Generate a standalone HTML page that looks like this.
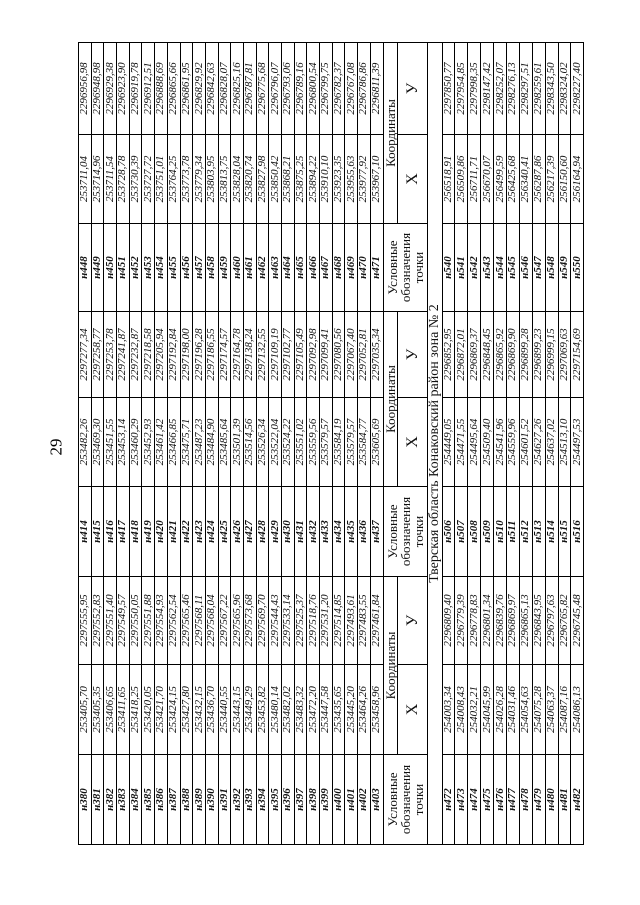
<!DOCTYPE html>
<html><head><meta charset="utf-8"><style>
html,body{margin:0;padding:0;background:#fff;}
body{width:640px;height:905px;position:relative;overflow:hidden;font-family:"Liberation Serif",serif;}
#w{position:absolute;left:0;top:0;width:802px;height:509px;transform-origin:0 0;transform:translate(78px,845px) rotate(-90deg);}
table{border-collapse:collapse;table-layout:fixed;width:802px;}
td{border:1px solid #000;padding:0;text-align:center;font-style:italic;font-size:11px;line-height:11px;height:11.7px;overflow:hidden;white-space:nowrap;color:#111;}
td.n{font-weight:bold;}
tr.h td{font-style:normal;font-size:13px;line-height:13px;height:13px;}
tr.h2 td{font-style:normal;font-size:16px;height:29px;}
td.hn{font-style:normal;font-size:13px;line-height:14px;white-space:normal;}
tr.z td{font-style:normal;font-size:14px;line-height:14px;height:14px;}
tr.b td{height:11.9px;}
#p{position:absolute;left:48px;top:437px;font-size:17px;transform:rotate(-90deg);}
</style></head><body>
<div id="p">29</div>
<div id="w"><table>
<colgroup><col style="width:90px"><col style="width:90px"><col style="width:88px"><col style="width:90px"><col style="width:89px"><col style="width:86px"><col style="width:88px"><col style="width:89px"><col style="width:92px"></colgroup>
<tr><td class="n">н380</td><td>253405,70</td><td>2297555,95</td><td class="n">н414</td><td>253482,26</td><td>2297277,34</td><td class="n">н448</td><td>253711,04</td><td>2296956,98</td></tr>
<tr><td class="n">н381</td><td>253405,35</td><td>2297552,83</td><td class="n">н415</td><td>253469,30</td><td>2297258,77</td><td class="n">н449</td><td>253714,96</td><td>2296948,98</td></tr>
<tr><td class="n">н382</td><td>253406,65</td><td>2297551,40</td><td class="n">н416</td><td>253451,55</td><td>2297253,78</td><td class="n">н450</td><td>253711,54</td><td>2296929,38</td></tr>
<tr><td class="n">н383</td><td>253411,65</td><td>2297549,57</td><td class="n">н417</td><td>253453,14</td><td>2297241,87</td><td class="n">н451</td><td>253728,78</td><td>2296923,90</td></tr>
<tr><td class="n">н384</td><td>253418,25</td><td>2297550,05</td><td class="n">н418</td><td>253460,29</td><td>2297232,87</td><td class="n">н452</td><td>253730,39</td><td>2296919,78</td></tr>
<tr><td class="n">н385</td><td>253420,05</td><td>2297551,88</td><td class="n">н419</td><td>253452,93</td><td>2297218,58</td><td class="n">н453</td><td>253727,72</td><td>2296912,51</td></tr>
<tr><td class="n">н386</td><td>253421,70</td><td>2297554,93</td><td class="n">н420</td><td>253461,42</td><td>2297205,94</td><td class="n">н454</td><td>253751,01</td><td>2296888,69</td></tr>
<tr><td class="n">н387</td><td>253424,15</td><td>2297562,54</td><td class="n">н421</td><td>253466,85</td><td>2297192,84</td><td class="n">н455</td><td>253764,25</td><td>2296865,66</td></tr>
<tr><td class="n">н388</td><td>253427,80</td><td>2297565,46</td><td class="n">н422</td><td>253475,71</td><td>2297198,00</td><td class="n">н456</td><td>253773,78</td><td>2296861,95</td></tr>
<tr><td class="n">н389</td><td>253432,15</td><td>2297568,11</td><td class="n">н423</td><td>253487,23</td><td>2297196,28</td><td class="n">н457</td><td>253779,34</td><td>2296829,92</td></tr>
<tr><td class="n">н390</td><td>253436,70</td><td>2297568,04</td><td class="n">н424</td><td>253484,90</td><td>2297186,55</td><td class="n">н458</td><td>253803,95</td><td>2296842,63</td></tr>
<tr><td class="n">н391</td><td>253440,55</td><td>2297567,22</td><td class="n">н425</td><td>253485,64</td><td>2297174,57</td><td class="n">н459</td><td>253813,75</td><td>2296828,07</td></tr>
<tr><td class="n">н392</td><td>253443,15</td><td>2297565,96</td><td class="n">н426</td><td>253501,39</td><td>2297164,78</td><td class="n">н460</td><td>253828,04</td><td>2296825,16</td></tr>
<tr><td class="n">н393</td><td>253449,29</td><td>2297573,68</td><td class="n">н427</td><td>253514,56</td><td>2297138,24</td><td class="n">н461</td><td>253820,74</td><td>2296787,81</td></tr>
<tr><td class="n">н394</td><td>253453,82</td><td>2297569,70</td><td class="n">н428</td><td>253526,34</td><td>2297132,55</td><td class="n">н462</td><td>253827,98</td><td>2296775,68</td></tr>
<tr><td class="n">н395</td><td>253480,14</td><td>2297544,43</td><td class="n">н429</td><td>253522,04</td><td>2297109,19</td><td class="n">н463</td><td>253850,42</td><td>2296796,07</td></tr>
<tr><td class="n">н396</td><td>253482,02</td><td>2297533,14</td><td class="n">н430</td><td>253524,22</td><td>2297102,77</td><td class="n">н464</td><td>253868,21</td><td>2296793,06</td></tr>
<tr><td class="n">н397</td><td>253483,32</td><td>2297525,37</td><td class="n">н431</td><td>253551,02</td><td>2297105,49</td><td class="n">н465</td><td>253875,25</td><td>2296789,16</td></tr>
<tr><td class="n">н398</td><td>253472,20</td><td>2297518,76</td><td class="n">н432</td><td>253559,56</td><td>2297092,98</td><td class="n">н466</td><td>253894,22</td><td>2296800,54</td></tr>
<tr><td class="n">н399</td><td>253447,58</td><td>2297531,20</td><td class="n">н433</td><td>253579,57</td><td>2297099,41</td><td class="n">н467</td><td>253910,10</td><td>2296799,75</td></tr>
<tr><td class="n">н400</td><td>253435,65</td><td>2297514,85</td><td class="n">н434</td><td>253584,19</td><td>2297080,56</td><td class="n">н468</td><td>253923,35</td><td>2296782,37</td></tr>
<tr><td class="n">н401</td><td>253445,20</td><td>2297493,61</td><td class="n">н435</td><td>253579,57</td><td>2297067,40</td><td class="n">н469</td><td>253955,63</td><td>2296767,08</td></tr>
<tr><td class="n">н402</td><td>253464,26</td><td>2297483,55</td><td class="n">н436</td><td>253584,77</td><td>2297052,81</td><td class="n">н470</td><td>253977,92</td><td>2296786,86</td></tr>
<tr><td class="n">н403</td><td>253458,96</td><td>2297461,84</td><td class="n">н437</td><td>253605,69</td><td>2297035,34</td><td class="n">н471</td><td>253967,10</td><td>2296811,39</td></tr>
<tr class="h"><td class="hn" rowspan="2">Условные<br>обозначения<br>точки</td><td colspan="2">Координаты</td><td class="hn" rowspan="2">Условные<br>обозначения<br>точки</td><td colspan="2">Координаты</td><td class="hn" rowspan="2">Условные<br>обозначения<br>точки</td><td colspan="2">Координаты</td></tr>
<tr class="h2"><td>X</td><td>У</td><td>X</td><td>У</td><td>X</td><td>У</td></tr>
<tr class="z"><td colspan="9">Тверская область Конаковский район зона № 2</td></tr>
<tr class="b"><td class="n">н472</td><td>254003,34</td><td>2296809,40</td><td class="n">н506</td><td>254449,05</td><td>2296852,95</td><td class="n">н540</td><td>256518,91</td><td>2297850,77</td></tr>
<tr class="b"><td class="n">н473</td><td>254008,43</td><td>2296779,39</td><td class="n">н507</td><td>254471,55</td><td>2296872,01</td><td class="n">н541</td><td>256509,86</td><td>2297954,85</td></tr>
<tr class="b"><td class="n">н474</td><td>254032,21</td><td>2296778,83</td><td class="n">н508</td><td>254495,64</td><td>2296869,37</td><td class="n">н542</td><td>256711,71</td><td>2297998,35</td></tr>
<tr class="b"><td class="n">н475</td><td>254045,99</td><td>2296801,34</td><td class="n">н509</td><td>254509,40</td><td>2296848,45</td><td class="n">н543</td><td>256670,07</td><td>2298147,42</td></tr>
<tr class="b"><td class="n">н476</td><td>254026,28</td><td>2296839,76</td><td class="n">н510</td><td>254541,96</td><td>2296865,92</td><td class="n">н544</td><td>256499,59</td><td>2298252,07</td></tr>
<tr class="b"><td class="n">н477</td><td>254031,46</td><td>2296869,97</td><td class="n">н511</td><td>254559,96</td><td>2296869,90</td><td class="n">н545</td><td>256425,68</td><td>2298276,13</td></tr>
<tr class="b"><td class="n">н478</td><td>254054,63</td><td>2296865,13</td><td class="n">н512</td><td>254601,52</td><td>2296899,28</td><td class="n">н546</td><td>256340,41</td><td>2298297,51</td></tr>
<tr class="b"><td class="n">н479</td><td>254075,28</td><td>2296843,95</td><td class="n">н513</td><td>254627,26</td><td>2296899,23</td><td class="n">н547</td><td>256287,86</td><td>2298259,61</td></tr>
<tr class="b"><td class="n">н480</td><td>254063,37</td><td>2296797,63</td><td class="n">н514</td><td>254637,02</td><td>2296999,15</td><td class="n">н548</td><td>256217,39</td><td>2298343,50</td></tr>
<tr class="b"><td class="n">н481</td><td>254087,16</td><td>2296765,82</td><td class="n">н515</td><td>254513,10</td><td>2297069,63</td><td class="n">н549</td><td>256150,60</td><td>2298324,02</td></tr>
<tr class="b"><td class="n">н482</td><td>254086,13</td><td>2296745,48</td><td class="n">н516</td><td>254497,53</td><td>2297154,69</td><td class="n">н550</td><td>256164,94</td><td>2298227,40</td></tr>
</table></div>
</body></html>
